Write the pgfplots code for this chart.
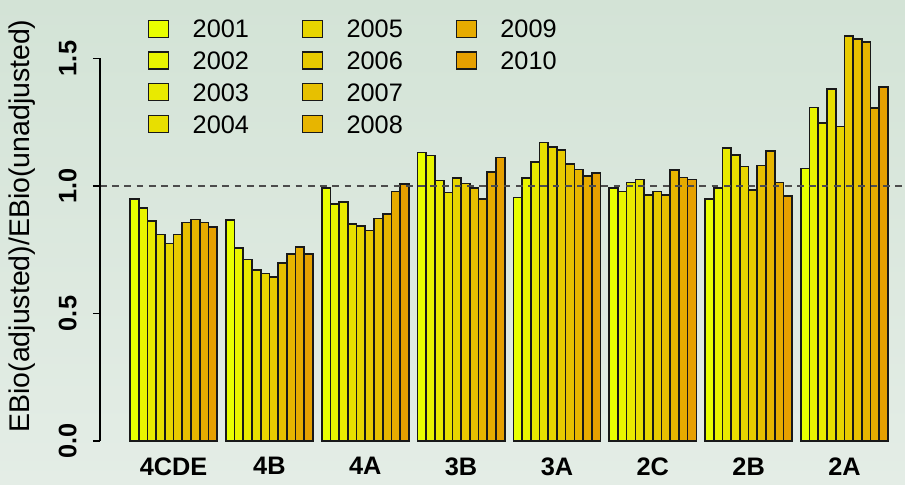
\documentclass[border=0pt]{standalone}
\usepackage{pgfplots}
\pgfplotsset{compat=1.18}
\usepackage{pgfplotstable}
\usepackage{fontspec}
\setmainfont{Liberation Sans}

\definecolor{bgtop}{RGB}{211,227,214}
\definecolor{bgbot}{RGB}{228,237,230}
\definecolor{c1}{RGB}{233,255,0}
\definecolor{c2}{RGB}{233,244,0}
\definecolor{c3}{RGB}{233,234,0}
\definecolor{c4}{RGB}{232,223,0}
\definecolor{c5}{RGB}{232,213,0}
\definecolor{c6}{RGB}{232,202,0}
\definecolor{c7}{RGB}{231,192,0}
\definecolor{c8}{RGB}{231,181,0}
\definecolor{c9}{RGB}{230,171,0}
\definecolor{c10}{RGB}{230,160,0}

% ratio EBio(adjusted)/EBio(unadjusted), one row per area, one column per year
\pgfplotstableread{
grp  y1    y2    y3    y4    y5    y6    y7    y8    y9    y10
4CDE 0.949 0.915 0.863 0.810 0.775 0.810 0.857 0.868 0.857 0.839
4B   0.867 0.757 0.712 0.671 0.657 0.644 0.699 0.733 0.762 0.733
4A   0.991 0.929 0.938 0.850 0.843 0.825 0.873 0.890 0.978 1.009
3B   1.131 1.120 1.021 0.974 1.030 1.010 0.992 0.950 1.056 1.112
3A   0.955 1.031 1.095 1.171 1.154 1.142 1.085 1.065 1.040 1.050
2C   0.992 0.978 1.014 1.026 0.965 0.979 0.965 1.063 1.033 1.026
2B   0.949 0.991 1.150 1.122 1.076 0.984 1.080 1.137 1.014 0.962
2A   1.069 1.308 1.248 1.379 1.233 1.588 1.576 1.566 1.307 1.389
}\ebio

\begin{document}
\begin{tikzpicture}
\shade[top color=bgtop, bottom color=bgbot] (0,0) rectangle (15.0833,8.0833);
\path[use as bounding box] (0,0) rectangle (15.0833,8.0833);
\begin{axis}[
    at={(1.6667cm,0.7333cm)}, anchor=south west,
    scale only axis, width=13.4167cm, height=7.0125cm,
    xmin=-2.443, xmax=89.95, ymin=0, ymax=1.65,
    clip=false,
    axis line style={draw=none},
    ybar, bar width=1, bar shift=0pt,
    ytick={0,0.5,1,1.5}, yticklabels={0.0,0.5,1.0,1.5},
    ytick pos=left, tick align=outside, major tick length=0.117cm,
    ytick style={line width=0.8pt, black},
    yticklabel style={rotate=90, anchor=south, inner sep=0pt,
        font=\bfseries\fontsize{12}{14}\selectfont},
    yticklabel shift=0.267cm,
    xtick={6,17,28,39,50,61,72,83},
    xticklabels={4CDE,4B,4A,3B,3A,2C,2B,2A},
    xtick style={draw=none},
    xticklabel style={anchor=north, inner sep=0pt,
        font=\bfseries\fontsize{12}{14}\selectfont},
    xticklabel shift=0.15cm,
    ylabel={EBio(adjusted)/EBio(unadjusted)},
    ylabel style={at={(rel axis cs:-0.0969,0.511)}, anchor=center,
        inner sep=0pt, font=\fontsize{13.5}{15}\selectfont},
    legend columns=3,
    legend cell align=left,
    legend image code/.code={\draw[#1] (0cm,-0.1415cm) rectangle (0.333cm,0.1415cm);},
    legend style={at={(0.0596,1.0018)}, anchor=north west,
        draw=none, fill=none, inner sep=0pt, outer sep=0pt,
        font=\fontsize{12}{14}\selectfont,
        nodes={inner sep=0pt, text height=8.6pt, text depth=0pt},
        row sep=0.23cm,
        /tikz/every odd column/.append style={column sep=0.395cm},
        /tikz/every even column/.append style={column sep=0.88cm}},
]
\pgfplotsinvokeforeach{1,...,10}{
    \addplot[forget plot, fill=c#1, draw=black!90, line width=0.8pt]
        table[x expr=\coordindex*11+0.5+#1, y=y#1] {\ebio};
}
\addplot[forget plot, sharp plot, draw=black!70, line width=0.8pt,
    dash pattern=on 3.2pt off 2.6pt] coordinates {(-2.443,1) (89.95,1)};
\draw[line width=0.8pt] (axis cs:-2.443,0) -- (axis cs:-2.443,1.5);

\addlegendimage{fill=c1, draw=black!90, line width=0.5pt}\addlegendentry{2001}
\addlegendimage{fill=c5, draw=black!90, line width=0.5pt}\addlegendentry{2005}
\addlegendimage{fill=c9, draw=black!90, line width=0.5pt}\addlegendentry{2009}
\addlegendimage{fill=c2, draw=black!90, line width=0.5pt}\addlegendentry{2002}
\addlegendimage{fill=c6, draw=black!90, line width=0.5pt}\addlegendentry{2006}
\addlegendimage{fill=c10, draw=black!90, line width=0.5pt}\addlegendentry{2010}
\addlegendimage{fill=c3, draw=black!90, line width=0.5pt}\addlegendentry{2003}
\addlegendimage{fill=c7, draw=black!90, line width=0.5pt}\addlegendentry{2007}
\addlegendimage{empty legend}\addlegendentry{}
\addlegendimage{fill=c4, draw=black!90, line width=0.5pt}\addlegendentry{2004}
\addlegendimage{fill=c8, draw=black!90, line width=0.5pt}\addlegendentry{2008}
\end{axis}
\end{tikzpicture}
\end{document}
